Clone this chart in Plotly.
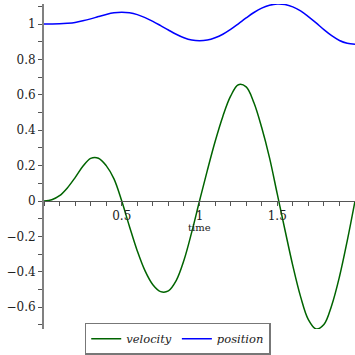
import plotly.graph_objects as go

time = [0.00, 0.05, 0.10, 0.15, 0.20, 0.25, 0.30, 0.35, 0.40, 0.45,
        0.50, 0.55, 0.60, 0.65, 0.70, 0.75, 0.80, 0.85, 0.90, 0.95,
        1.00, 1.05, 1.10, 1.15, 1.20, 1.25, 1.30, 1.35, 1.40, 1.45,
        1.50, 1.55, 1.60, 1.65, 1.70, 1.75, 1.80, 1.85, 1.90, 1.95, 2.00]

velocity = [0.000, 0.007, 0.030, 0.074, 0.132, 0.196, 0.241, 0.242, 0.200, 0.125,
            0.000, -0.145, -0.282, -0.395, -0.473, -0.512, -0.508, -0.450, -0.335, -0.176,
            0.000, 0.172, 0.335, 0.478, 0.592, 0.657, 0.645, 0.555, 0.415, 0.245,
            0.040, -0.165, -0.365, -0.540, -0.670, -0.723, -0.698, -0.590, -0.428, -0.225, 0.000]

position = [1.000, 1.000, 1.001, 1.004, 1.009, 1.018, 1.029, 1.042, 1.054, 1.063,
            1.066, 1.063, 1.053, 1.036, 1.015, 0.991, 0.966, 0.942, 0.922, 0.909,
            0.905, 0.909, 0.922, 0.942, 0.969, 1.001, 1.034, 1.065, 1.090, 1.106,
            1.113, 1.110, 1.097, 1.074, 1.042, 1.006, 0.968, 0.934, 0.907, 0.891, 0.885]

x_tick_vals = [0.5, 1, 1.5, 2]
x_tick_text = ["0.5", "1", "1.5", "2"]
y_tick_vals = [-0.6, -0.4, -0.2, 0, 0.2, 0.4, 0.6, 0.8, 1]
y_tick_text = ["\u22120.6", "\u22120.4", "\u22120.2", "0", "0.2", "0.4", "0.6", "0.8", "1"]

ymin = min(velocity)
ymax = max(position)
zero_pos = (0 - ymin) / (ymax - ymin)

FONT = "DejaVu Serif"

fig = go.Figure()
fig.add_trace(go.Scatter(x=time, y=velocity, mode="lines", name="velocity",
                         line=dict(color="#006400", width=1.5, shape="spline")))
fig.add_trace(go.Scatter(x=time, y=position, mode="lines", name="position",
                         line=dict(color="#0000ff", width=1.5, shape="spline")))

fig.update_layout(
    width=355, height=355,
    margin=dict(l=44, r=0, t=4, b=26, autoexpand=False),
    paper_bgcolor="white", plot_bgcolor="white",
    font=dict(family=FONT, size=12, color="#222"),
    showlegend=True,
    legend=dict(orientation="h", x=0.43, xanchor="center", y=-0.079, yanchor="bottom",
                bordercolor="#777", borderwidth=1.5, bgcolor="white",
                font=dict(family=FONT, size=11.5, style="italic"),
                tracegroupgap=0, itemwidth=30),
    xaxis=dict(range=[0, 2], anchor="free", position=zero_pos,
               showline=True, linecolor="#555", linewidth=1,
               showgrid=False, zeroline=False,
               tickmode="array", tickvals=x_tick_vals, ticktext=x_tick_text,
               ticks="outside", ticklen=4, tickcolor="#555", tickwidth=1,
               minor=dict(dtick=0.1, tick0=0, ticks="outside", ticklen=4,
                          tickcolor="#555", showgrid=False),
               tickfont=dict(family=FONT, size=12)),
    yaxis=dict(range=[ymin, ymax],
               showline=True, linecolor="#808080", linewidth=2,
               showgrid=False, zeroline=False,
               tickmode="array", tickvals=y_tick_vals, ticktext=y_tick_text,
               ticks="outside", ticklen=4, tickcolor="#555", tickwidth=1,
               minor=dict(dtick=0.1, tick0=0, ticks="outside", ticklen=4,
                          tickcolor="#555", showgrid=False),
               tickfont=dict(family=FONT, size=12)),
)

fig.add_annotation(x=1, y=0, xref="x", yref="y", text="time", showarrow=False,
                   yanchor="top", yshift=-19, font=dict(family=FONT, size=10))

fig.write_html("out.html")
